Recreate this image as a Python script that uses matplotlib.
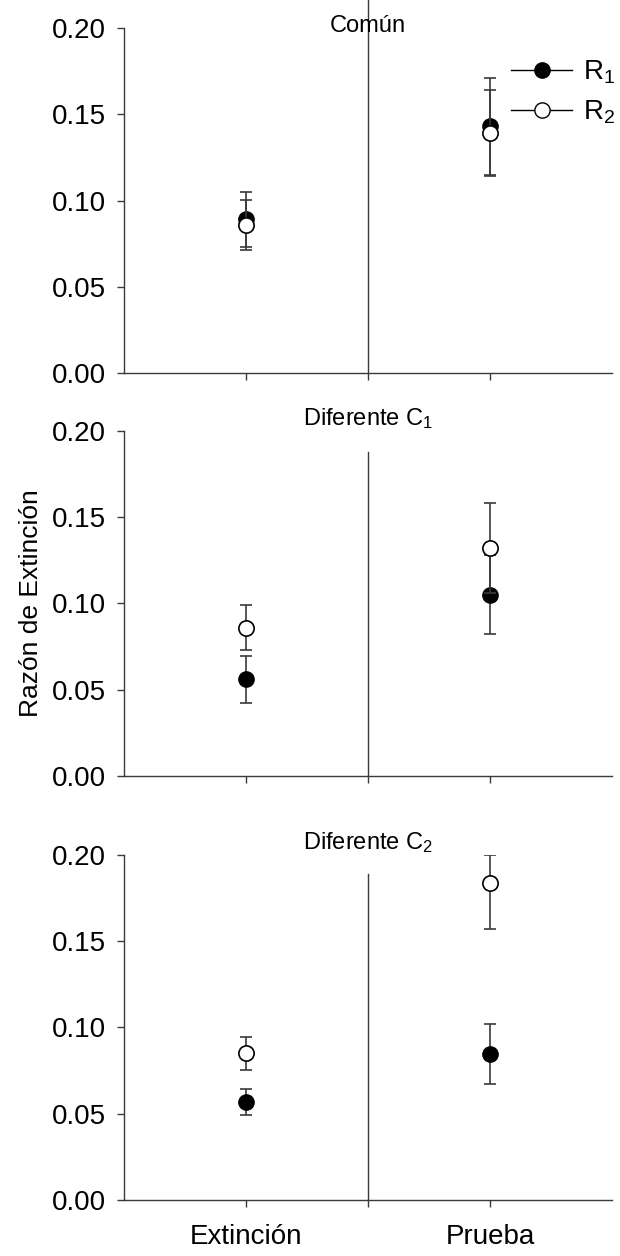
import matplotlib
matplotlib.use("Agg")
import matplotlib.pyplot as plt
from matplotlib.lines import Line2D
import numpy as np

plt.rcParams["font.family"] = ["Liberation Sans", "DejaVu Sans"]
plt.rcParams["mathtext.fontset"] = "custom"
plt.rcParams["mathtext.rm"] = "Liberation Sans"
plt.rcParams["mathtext.it"] = "Liberation Sans"

phases = ["Extinción", "Prueba"]
panel_titles = ["Común", "Diferente C$_1$", "Diferente C$_2$"]

# mean extinction ratio per panel, [Extinción, Prueba]
r1_mean = [[0.089, 0.143], [0.056, 0.105], [0.057, 0.0845]]
r1_err = [[0.016, 0.028], [0.0135, 0.023], [0.0075, 0.0175]]
r2_mean = [[0.086, 0.139], [0.086, 0.132], [0.085, 0.184]]
r2_err_low = [[0.0145, 0.025], [0.013, 0.026], [0.0095, 0.027]]
r2_err_high = [[0.0145, 0.025], [0.013, 0.026], [0.0095, 0.016]]
divider_top = [0.216, 0.188, 0.189]

x_pos = np.array([1, 3])
line_col = "#3a3a3a"

fig = plt.figure(figsize=(6.2, 12.56), dpi=100)
bottoms = [0.703, 0.3822, 0.0446]
title_pads = [-3, 4, 4]
height = 0.2747
axes = []
for i, b in enumerate(bottoms):
    ax = fig.add_axes([0.2, b, 0.787, height])
    axes.append(ax)

    ax.errorbar(x_pos, r1_mean[i], yerr=r1_err[i], fmt="o", color="black",
                markersize=11, ecolor=line_col, elinewidth=1.2, capsize=4,
                capthick=1.2, zorder=3)
    ax.errorbar(x_pos, r2_mean[i], yerr=[r2_err_low[i], r2_err_high[i]], fmt="o",
                markerfacecolor="white", markeredgecolor="black", markeredgewidth=1.2,
                markersize=11, ecolor=line_col, elinewidth=1.2, capsize=4,
                capthick=1.2, zorder=4)

    ax.plot([2, 2], [0, divider_top[i]], color=line_col, linewidth=1, clip_on=False)

    ax.set_xlim(0, 4)
    ax.set_ylim(0, 0.20)
    ax.set_yticks([0.0, 0.05, 0.10, 0.15, 0.20])
    ax.set_yticklabels(["0.00", "0.05", "0.10", "0.15", "0.20"])
    ax.set_xticks([1, 2, 3])
    if i == 2:
        ax.set_xticklabels([phases[0], "", phases[1]])
    else:
        ax.set_xticklabels(["", "", ""])

    for side in ["top", "right"]:
        ax.spines[side].set_visible(False)
    for side in ["left", "bottom"]:
        ax.spines[side].set_color(line_col)
        ax.spines[side].set_linewidth(1)
    ax.tick_params(direction="out", length=5, width=1, color=line_col,
                   labelsize=20, pad=8)
    ax.tick_params(axis="x", pad=12)
    ax.set_title(panel_titles[i], fontsize=17, y=1.0, pad=title_pads[i])

axes[1].set_ylabel("Razón de Extinción", fontsize=19, labelpad=6)

legend_handles = [
    Line2D([], [], color="black", linewidth=1, marker="o", markersize=11,
           markerfacecolor="black", markeredgecolor="black"),
    Line2D([], [], color="black", linewidth=1, marker="o", markersize=11,
           markerfacecolor="white", markeredgecolor="black"),
]
axes[0].legend(legend_handles, ["R$_1$", "R$_2$"], loc="upper right",
               bbox_to_anchor=(1.03, 0.943), borderaxespad=0, frameon=False,
               fontsize=20, handlelength=2.2, labelspacing=0.45,
               handletextpad=0.4)

fig.savefig("out.png", dpi=100)
